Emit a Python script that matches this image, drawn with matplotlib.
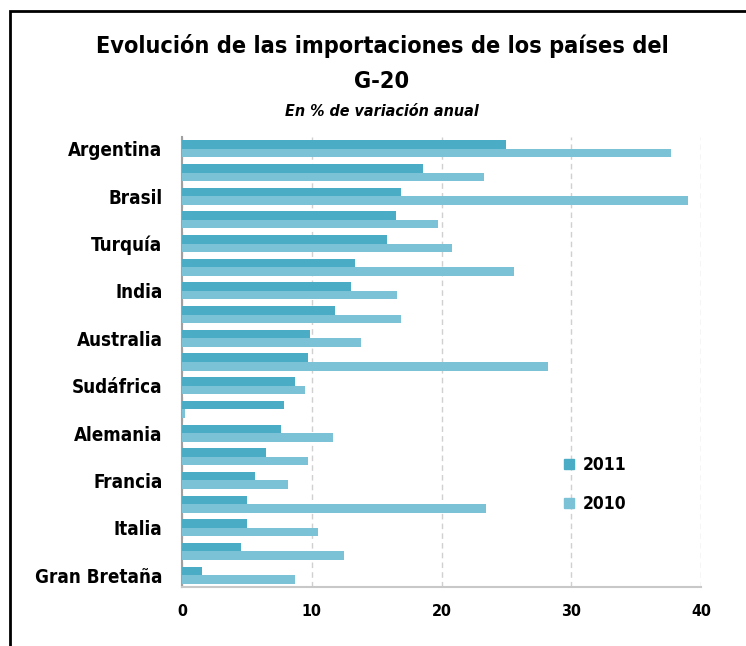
import numpy as np
import matplotlib.pyplot as plt
from matplotlib.patches import Rectangle
from matplotlib.lines import Line2D

# countries ordered top to bottom; only every other one is labelled in the chart
paises = [
    "Argentina", "China", "Brasil", "Rusia", "Turquía", "Indonesia",
    "India", "Corea del Sur", "Australia", "Japón", "Sudáfrica",
    "Arabia Saudita", "Alemania", "México", "Francia", "Canadá",
    "Italia", "Estados Unidos", "Gran Bretaña",
]
var_2011 = [25.0, 18.6, 16.9, 16.5, 15.8, 13.3, 13.0, 11.8, 9.9, 9.7,
            8.7, 7.85, 7.6, 6.45, 5.6, 5.0, 5.0, 4.55, 1.55]
var_2010 = [37.7, 23.3, 39.0, 19.7, 20.8, 25.6, 16.6, 16.9, 13.8, 28.2,
            9.5, 0.2, 11.65, 9.7, 8.2, 23.4, 10.5, 12.5, 8.7]
x_ticks = [0, 10, 20, 30, 40]

c2011 = "#4BACC6"
c2010 = "#7CC2D6"
font = "DejaVu Sans"


def main():
    fig = plt.figure(figsize=(7.46, 6.46), dpi=100)
    ax = fig.add_axes([182 / 746, 1 - 587 / 646, (701 - 182) / 746, 450 / 646])

    n = len(paises)
    y = np.arange(n)
    h = 0.36
    ax.barh(y - h / 2, var_2011, height=h, color=c2011, label="2011", zorder=3)
    ax.barh(y + h / 2, var_2010, height=h, color=c2010, label="2010", zorder=3)

    ax.set_ylim(n - 0.5, -0.5)
    ax.set_xlim(0, 40)
    ax.set_yticks(y[::2])
    ax.set_yticklabels(paises[::2], fontfamily=font, fontweight="bold",
                       fontstretch="condensed", fontsize=13.5)
    ax.set_xticks(x_ticks)
    ax.set_xticklabels([str(t) for t in x_ticks], fontfamily=font,
                       fontweight="bold", fontstretch="condensed", fontsize=11.5)
    ax.tick_params(axis="y", length=0, pad=14)
    ax.tick_params(axis="x", length=0, pad=12)

    ax.grid(axis="x", color="#d0d0d0", linestyle=(0, (4, 3)), linewidth=1, zorder=0)
    for s in ["top", "right"]:
        ax.spines[s].set_visible(False)
    ax.spines["left"].set_color("#a0a0a0")
    ax.spines["left"].set_linewidth(1.5)
    ax.spines["bottom"].set_color("#c8c8c8")
    ax.spines["bottom"].set_linewidth(1.5)

    handles = [
        Line2D([], [], marker="s", linestyle="none", color=c2011, markersize=7),
        Line2D([], [], marker="s", linestyle="none", color=c2010, markersize=7),
    ]
    ax.legend(handles, ["2011", "2010"], loc="upper left",
              bbox_to_anchor=((545 - 182) / 519, (587 - 440) / 450),
              frameon=False, handlelength=1.0, handletextpad=0.3,
              labelspacing=1.25,
              prop={"family": font, "weight": "bold", "stretch": "condensed",
                    "size": 12.5})

    tkw = dict(ha="center", va="center", fontfamily=font, fontweight="bold",
               fontstretch="condensed")
    fig.text(382 / 746, 1 - 46 / 646,
             "Evolución de las importaciones de los países del", fontsize=16.8, **tkw)
    fig.text(382 / 746, 1 - 82 / 646, "G-20", fontsize=16.8, **tkw)
    fig.text(382 / 746, 1 - 112 / 646, "En % de variación anual",
             fontstyle="italic", fontsize=11.5, **tkw)

    # outer frame, runs off the right and bottom edges
    fig.patches.append(Rectangle((10 / 746, -0.1), 1.2, 1 - 11 / 646 + 0.1,
                                 transform=fig.transFigure, fill=False,
                                 edgecolor="black", linewidth=2))
    return fig, ax


if __name__ == "__main__":
    fig, _ = main()
    fig.savefig("out.png", dpi=100)
